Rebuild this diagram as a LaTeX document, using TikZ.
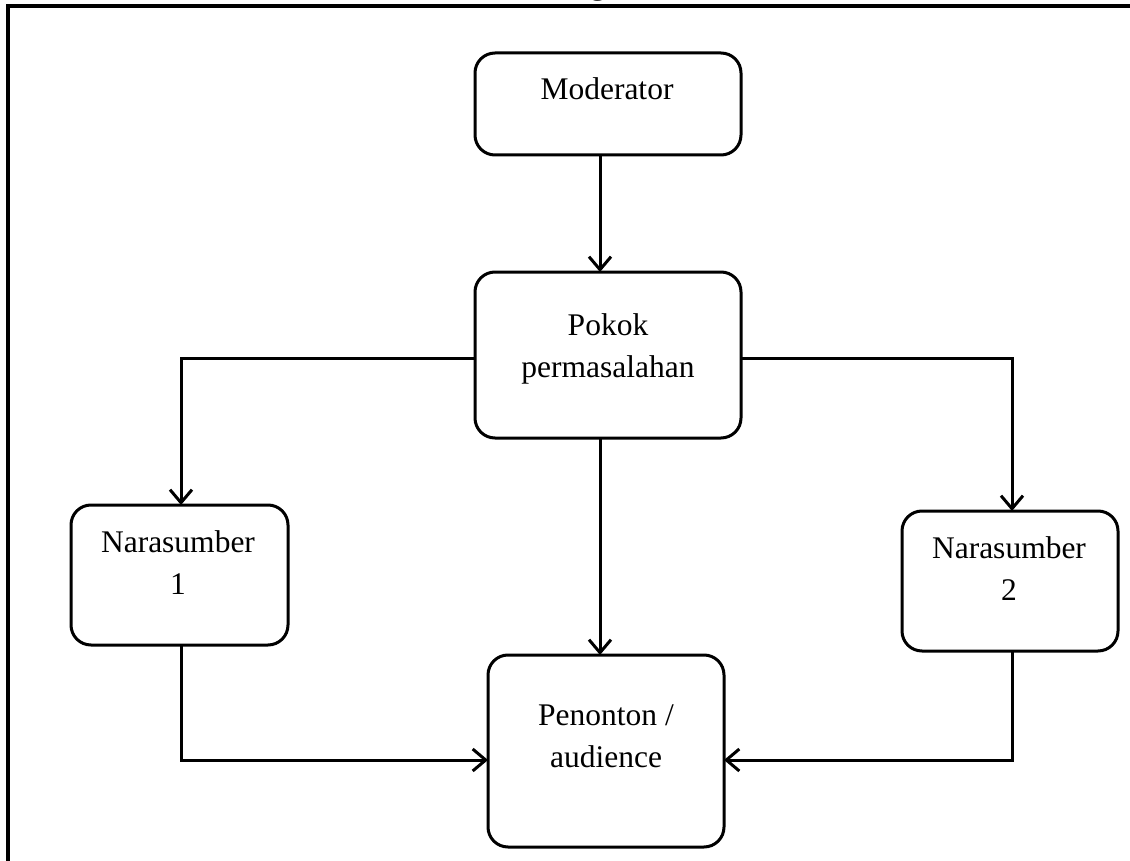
\documentclass[tikz,border=0pt]{standalone}
\usepackage{fontspec}
\setmainfont{Liberation Serif}
\usetikzlibrary{arrows.meta}
\tikzset{
  box/.style={draw, line width=3pt, rounded corners=20pt},
  lbl/.style={align=center, font=\fontsize{31.5}{42}\selectfont, inner sep=0pt, anchor=base},
  conn/.style={line width=3pt, -{Straight Barb[length=13pt,width=22pt,line width=3pt]}},
}
\begin{document}
\begin{tikzpicture}[x=1pt,y=-1pt]
\useasboundingbox (0,0) rectangle (1130,861);
% frame
\draw[line width=3.2pt] (8,861) -- (8,6) -- (1130,6);
\node[lbl] (cap) at (598,-5) {g};
% boxes
\draw[box] (475,53) rectangle (741,155);
\coordinate (modB) at (600,155);
\node[lbl] (mod) at (607,100) {Moderator};

\draw[box] (475,272) rectangle (741,438);
\coordinate (pokT) at (600,272);
\coordinate (pokB) at (600,438);
\coordinate (pokL) at (475,358);
\coordinate (pokR) at (741,358);
\node[lbl] (pok) at (608,377) {Pokok\\permasalahan};

\draw[box] (71,505) rectangle (288,645);
\coordinate (n1T) at (181,505);
\coordinate (n1B) at (181,645);
\node[lbl] (n1) at (178,594) {Narasumber\\1};

\draw[box] (902,511) rectangle (1118,651);
\coordinate (n2T) at (1012,511);
\coordinate (n2B) at (1012,651);
\node[lbl] (n2) at (1009,600) {Narasumber\\2};

\draw[box] (488,655) rectangle (724,847);
\coordinate (penT) at (600,655);
\coordinate (penL) at (488,760);
\coordinate (penR) at (724,760);
\node[lbl] (pen) at (606,767) {Penonton /\\audience};

% connectors
\draw[conn] (modB) -- (pokT);
\draw[conn] (pokL) -| (n1T);
\draw[conn] (pokR) -| (n2T);
\draw[conn] (pokB) -- (penT);
\draw[conn] (n1B) |- (penL);
\draw[conn] (n2B) |- (penR);
\end{tikzpicture}
\end{document}
